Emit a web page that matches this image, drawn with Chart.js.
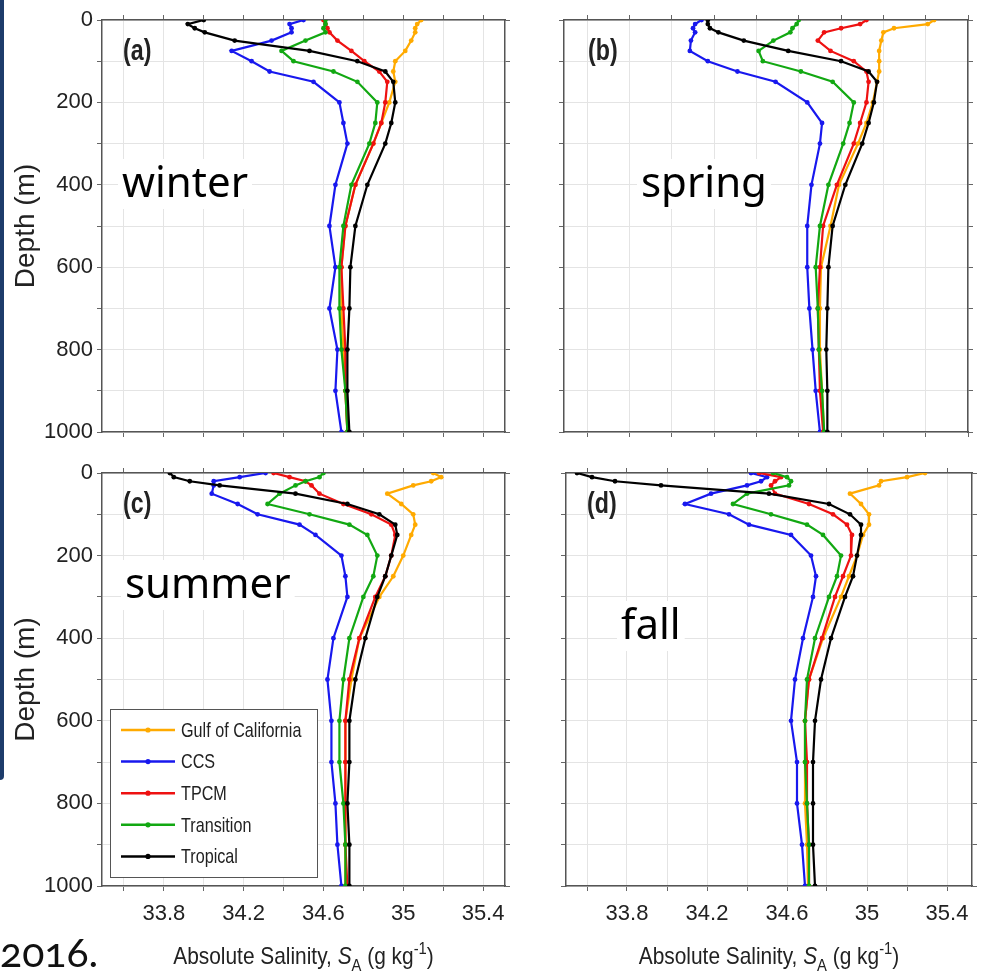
<!DOCTYPE html>
<html>
<head>
<meta charset="utf-8">
<script src="https://cdn.jsdelivr.net/npm/chart.js@4.4.1/dist/chart.umd.min.js"></script>
<style>
html,body{margin:0;padding:0;background:#fff;}
#wrap{position:relative;width:982px;height:979px;overflow:hidden;background:#fff;}
#wrap canvas{position:absolute;}
#bar{position:absolute;left:0;top:0;width:4px;height:780px;background:#1d3c6b;border-bottom-right-radius:4px;}
#yr{position:absolute;left:0;top:929px;font-family:'Lato','Noto Sans',sans-serif;font-size:41px;line-height:46px;color:#111;font-feature-settings:"onum" 1;font-variant-numeric:oldstyle-nums;}
</style>
</head>
<body>
<div id="wrap">
  <div id="bar"></div>
  <canvas id="ca" width="530" height="460" style="left:0;top:0"></canvas>
  <canvas id="cb" width="452" height="460" style="left:530px;top:0"></canvas>
  <canvas id="cc" width="530" height="534" style="left:0;top:445px"></canvas>
  <canvas id="cd" width="452" height="534" style="left:530px;top:445px"></canvas>
  <div id="yr">2016.</div>
</div>
<script>
// ---------------- data ----------------
const depths = [0, 10, 20, 30, 50, 75, 100, 125, 150, 200, 250, 300, 400, 500, 600, 700, 800, 900, 1000];

const seriesNames = ['Gulf of California', 'CCS', 'TPCM', 'Transition', 'Tropical'];
const seriesColors = ['#FFAA00', '#1818EE', '#EE1111', '#12A812', '#000000'];

const xTickValues = [33.6, 33.8, 34.0, 34.2, 34.4, 34.6, 34.8, 35.0, 35.2, 35.4];
const xLabelValues = [33.8, 34.2, 34.6, 35.0, 35.4];
const xTickLabels = ['33.8', '34.2', '34.6', '35', '35.4'];
const yTickValues = [0, 100, 200, 300, 400, 500, 600, 700, 800, 900, 1000];
const yLabelValues = [0, 200, 400, 600, 800, 1000];
const yTickLabels = ['0', '200', '400', '600', '800', '1000'];

const seasonNames = ['winter', 'spring', 'summer', 'fall'];
const panelLetters = ['(a)', '(b)', '(c)', '(d)'];

// (a) winter
const winterGulf       = [35.09, 35.07, 35.06, 35.06, 35.04, 35.01, 34.96, 34.95, 34.96, 34.93, 34.89, 34.85, 34.76, 34.71, 34.69, 34.69, 34.70, 34.71, 34.72];
const winterCCS        = [34.50, 34.43, 34.44, 34.44, 34.34, 34.14, 34.24, 34.33, 34.55, 34.68, 34.70, 34.72, 34.66, 34.63, 34.66, 34.63, 34.67, 34.66, 34.69];
const winterTPCM       = [34.60, 34.61, 34.62, 34.63, 34.67, 34.74, 34.805, 34.88, 34.92, 34.91, 34.89, 34.85, 34.76, 34.71, 34.69, 34.70, 34.71, 34.71, 34.72];
const winterTransition = [34.61, 34.61, 34.60, 34.61, 34.51, 34.39, 34.45, 34.65, 34.77, 34.87, 34.86, 34.83, 34.74, 34.70, 34.68, 34.68, 34.69, 34.71, 34.72];
const winterTropical   = [34.00, 33.92, 33.955, 34.005, 34.155, 34.53, 34.77, 34.91, 34.95, 34.96, 34.94, 34.91, 34.82, 34.76, 34.735, 34.73, 34.72, 34.72, 34.73];

// (b) spring
const springGulf       = [35.24, 35.21, 35.05, 35.00, 34.99, 34.98, 34.98, 34.98, 34.97, 34.95, 34.92, 34.88, 34.79, 34.75, 34.705, 34.70, 34.70, 34.71, 34.72];
const springCCS        = [34.14, 34.11, 34.10, 34.11, 34.09, 34.085, 34.17, 34.31, 34.49, 34.64, 34.71, 34.70, 34.66, 34.64, 34.64, 34.65, 34.665, 34.68, 34.70];
const springTPCM       = [34.92, 34.89, 34.80, 34.72, 34.69, 34.75, 34.86, 34.92, 34.93, 34.92, 34.89, 34.86, 34.78, 34.715, 34.70, 34.69, 34.695, 34.70, 34.715];
const springTransition = [34.60, 34.59, 34.57, 34.56, 34.48, 34.41, 34.43, 34.61, 34.76, 34.86, 34.84, 34.81, 34.74, 34.70, 34.68, 34.69, 34.695, 34.71, 34.72];
const springTropical   = [34.17, 34.17, 34.18, 34.22, 34.34, 34.55, 34.80, 34.93, 34.97, 34.955, 34.93, 34.90, 34.82, 34.76, 34.74, 34.735, 34.73, 34.735, 34.735];

// (c) summer
const summerGulf       = [35.15, 35.19, 35.14, 35.05, 34.92, 34.99, 35.05, 35.06, 35.04, 35.00, 34.95, 34.88, 34.78, 34.74, 34.71, 34.71, 34.71, 34.71, 34.71];
const summerCCS        = [34.31, 34.18, 34.05, 34.05, 34.04, 34.17, 34.27, 34.48, 34.56, 34.69, 34.71, 34.72, 34.65, 34.62, 34.64, 34.64, 34.66, 34.67, 34.69];
const summerTPCM       = [34.35, 34.43, 34.51, 34.54, 34.58, 34.70, 34.84, 34.94, 34.96, 34.94, 34.91, 34.86, 34.78, 34.73, 34.71, 34.71, 34.71, 34.71, 34.72];
const summerTransition = [34.60, 34.58, 34.51, 34.46, 34.38, 34.32, 34.53, 34.73, 34.82, 34.87, 34.85, 34.80, 34.73, 34.70, 34.68, 34.68, 34.70, 34.71, 34.71];
const summerTropical   = [33.83, 33.85, 33.93, 34.08, 34.46, 34.72, 34.88, 34.96, 34.97, 34.94, 34.91, 34.87, 34.81, 34.76, 34.73, 34.73, 34.72, 34.73, 34.73];

// (d) fall
const fallGulf         = [35.29, 35.20, 35.07, 35.06, 34.915, 34.97, 35.01, 35.01, 34.98, 34.95, 34.91, 34.87, 34.78, 34.71, 34.69, 34.69, 34.69, 34.70, 34.705];
const fallCCS          = [34.42, 34.50, 34.47, 34.40, 34.22, 34.09, 34.31, 34.41, 34.62, 34.72, 34.745, 34.73, 34.68, 34.64, 34.62, 34.65, 34.65, 34.675, 34.69];
const fallTPCM         = [34.46, 34.57, 34.54, 34.52, 34.54, 34.71, 34.83, 34.90, 34.925, 34.92, 34.88, 34.84, 34.775, 34.71, 34.69, 34.70, 34.70, 34.71, 34.71];
const fallTransition   = [34.53, 34.60, 34.62, 34.61, 34.40, 34.33, 34.52, 34.70, 34.78, 34.87, 34.85, 34.81, 34.74, 34.70, 34.69, 34.69, 34.70, 34.71, 34.71];
const fallTropical     = [33.55, 33.625, 33.74, 33.97, 34.51, 34.81, 34.915, 34.97, 34.97, 34.95, 34.93, 34.89, 34.82, 34.77, 34.74, 34.73, 34.73, 34.73, 34.74];

// ---------------- rendering ----------------
const SANS = "'Liberation Sans', Arial, sans-serif";
const TEXT_COLOR = '#222';

function labelFor(v, vals, labels) {
  for (let i = 0; i < vals.length; i++) if (Math.abs(v - vals[i]) < 1e-6) return labels[i];
  return '';
}

function squeezedText(ctx, text, x, y, sx) {
  ctx.save();
  ctx.translate(x, y);
  ctx.scale(sx, 1);
  ctx.fillText(text, 0, 0);
  ctx.restore();
}

function makeDatasets(arrays) {
  return arrays.map((vals, i) => ({
    label: seriesNames[i],
    data: depths.map((d, k) => ({x: vals[k], y: d})),
    borderColor: seriesColors[i],
    backgroundColor: seriesColors[i],
    borderWidth: 2.2,
    pointRadius: 2.4,
    pointBorderWidth: 0,
    pointHoverRadius: 0,
    showLine: true,
    fill: false,
    tension: 0,
    order: arrays.length - i
  }));
}

function makeScales(p) {
  const grid = {color: '#e4e4e4', tickColor: '#666', tickLength: 5, lineWidth: 1, drawTicks: true, drawOnChartArea: true};
  const gridNoArea = Object.assign({}, grid, {drawOnChartArea: false});
  const border = {display: true, color: '#555', width: 1.5};
  const xTicks = s => { s.ticks = xTickValues.map(v => ({value: v})); };
  const yTicks = s => { s.ticks = yTickValues.map(v => ({value: v})); };
  return {
    x: {
      type: 'linear', position: 'bottom', min: p.xMin, max: p.xMax,
      afterBuildTicks: xTicks,
      afterFit: s => { s.height = p.bottomH; },
      ticks: {display: p.showX, autoSkip: false, maxRotation: 0, padding: 10, color: TEXT_COLOR,
              font: {family: SANS, size: 22},
              callback: v => labelFor(v, xLabelValues, xTickLabels)},
      grid: grid, border: border
    },
    x2: {
      type: 'linear', position: 'top', min: p.xMin, max: p.xMax,
      afterBuildTicks: xTicks,
      afterFit: s => { s.height = p.topH; },
      ticks: {display: false},
      grid: gridNoArea, border: border
    },
    y: {
      type: 'linear', position: 'left', reverse: true, min: 0, max: 1000,
      afterBuildTicks: yTicks,
      afterFit: s => { s.width = p.leftW; },
      ticks: {display: p.showY, autoSkip: false, padding: 4, color: TEXT_COLOR,
              font: {family: SANS, size: 22},
              callback: v => labelFor(v, yLabelValues, yTickLabels)},
      title: {display: p.showY, text: 'Depth (m)', color: TEXT_COLOR,
              font: {family: SANS, size: 28},
              padding: {top: 9, bottom: 0}},
      grid: grid, border: border
    },
    y2: {
      type: 'linear', position: 'right', reverse: true, min: 0, max: 1000,
      afterBuildTicks: yTicks,
      afterFit: s => { s.width = p.rightW; },
      ticks: {display: false},
      grid: gridNoArea, border: border
    }
  };
}

function drawXTitle(ctx, cx, baseY) {
  const size = 24, small = 17, sx = 0.87;
  const parts = [
    {t: 'Absolute Salinity, ', f: size + 'px ' + SANS, dy: 0},
    {t: 'S', f: 'italic ' + size + 'px ' + SANS, dy: 0},
    {t: 'A', f: small + 'px ' + SANS, dy: 7},
    {t: ' (g kg', f: size + 'px ' + SANS, dy: 0},
    {t: '-1', f: small + 'px ' + SANS, dy: -10},
    {t: ')', f: size + 'px ' + SANS, dy: 0}
  ];
  let total = 0;
  parts.forEach(p => { ctx.font = p.f; p.w = ctx.measureText(p.t).width * sx; total += p.w; });
  let x = cx - total / 2;
  ctx.textAlign = 'left';
  ctx.textBaseline = 'alphabetic';
  ctx.fillStyle = TEXT_COLOR;
  parts.forEach(p => { ctx.font = p.f; squeezedText(ctx, p.t, x, baseY + p.dy, sx); x += p.w; });
}

const overlayPlugin = {
  id: 'overlay',
  beforeDatasetsDraw(chart, args, o) {
    const ctx = chart.ctx;
    ctx.save();
    ctx.font = '42px "Noto Sans", sans-serif';
    ctx.textAlign = 'left';
    ctx.textBaseline = 'alphabetic';
    const w = ctx.measureText(o.season).width;
    ctx.fillStyle = '#fff';
    ctx.fillRect(o.seasonX - 4, o.seasonY - 38, w + 8, 50);
    ctx.fillStyle = '#000';
    ctx.fillText(o.season, o.seasonX, o.seasonY);
    ctx.restore();
  },
  afterDraw(chart, args, o) {
    const ctx = chart.ctx, ca = chart.chartArea;
    ctx.save();
    ctx.fillStyle = TEXT_COLOR;
    ctx.font = 'bold 29px ' + SANS;
    ctx.textAlign = 'left';
    ctx.textBaseline = 'middle';
    squeezedText(ctx, o.letter, ca.left + o.letterDx, ca.top + 32, 0.8);

    if (o.legend) {
      const L = o.legend;
      ctx.fillStyle = '#fff';
      ctx.fillRect(L.x, L.y, L.w, L.h);
      ctx.strokeStyle = '#555';
      ctx.lineWidth = 1;
      ctx.strokeRect(L.x + 0.5, L.y + 0.5, L.w, L.h);
      chart.data.datasets.forEach((ds, i) => {
        const yy = L.y + 21 + i * 31.6;
        ctx.strokeStyle = ds.borderColor;
        ctx.lineWidth = 2.5;
        ctx.beginPath();
        ctx.moveTo(L.x + 11, yy);
        ctx.lineTo(L.x + 65, yy);
        ctx.stroke();
        ctx.fillStyle = ds.borderColor;
        ctx.beginPath();
        ctx.arc(L.x + 38, yy, 2.6, 0, Math.PI * 2);
        ctx.fill();
        ctx.fillStyle = TEXT_COLOR;
        ctx.font = '21px ' + SANS;
        ctx.textBaseline = 'middle';
        squeezedText(ctx, ds.label, L.x + 71, yy + 1, 0.77);
      });
    }
    if (o.xTitle) {
      drawXTitle(ctx, (ca.left + ca.right) / 2, o.xTitleY);
    }
    ctx.restore();
  }
};

const panels = [
  {id: 'ca', arrays: [winterGulf, winterCCS, winterTPCM, winterTransition, winterTropical],
   xMin: 33.49, xMax: 35.51, leftW: 102, rightW: 25, topH: 20, bottomH: 28, showX: false, showY: true,
   ov: {letter: panelLetters[0], letterDx: 21, season: seasonNames[0], seasonX: 122, seasonY: 197}},
  {id: 'cb', arrays: [springGulf, springCCS, springTPCM, springTransition, springTropical],
   xMin: 33.49, xMax: 35.40, leftW: 34, rightW: 14, topH: 20, bottomH: 28, showX: false, showY: false,
   ov: {letter: panelLetters[1], letterDx: 24, season: seasonNames[1], seasonX: 641 - 530, seasonY: 197}},
  {id: 'cc', arrays: [summerGulf, summerCCS, summerTPCM, summerTransition, summerTropical],
   xMin: 33.49, xMax: 35.51, leftW: 102, rightW: 25, topH: 28, bottomH: 93, showX: true, showY: true,
   ov: {letter: panelLetters[2], letterDx: 21, season: seasonNames[2], seasonX: 125, seasonY: 598 - 445,
        legend: {x: 110, y: 709 - 445, w: 207, h: 168}, xTitle: true, xTitleY: 964 - 445}},
  {id: 'cd', arrays: [fallGulf, fallCCS, fallTPCM, fallTransition, fallTropical],
   xMin: 33.495, xMax: 35.525, leftW: 36, rightW: 10, topH: 28, bottomH: 93, showX: true, showY: false,
   ov: {letter: panelLetters[3], letterDx: 21, season: seasonNames[3], seasonX: 621 - 530, seasonY: 639 - 445,
        xTitle: true, xTitleY: 964 - 445}}
];

panels.forEach(p => {
  new Chart(document.getElementById(p.id), {
    type: 'scatter',
    data: {datasets: makeDatasets(p.arrays)},
    options: {
      responsive: false,
      animation: false,
      devicePixelRatio: 1,
      layout: {padding: 0},
      events: [],
      plugins: {legend: {display: false}, tooltip: {enabled: false}, overlay: p.ov},
      scales: makeScales(p)
    },
    plugins: [overlayPlugin]
  });
});
</script>
</body>
</html>
